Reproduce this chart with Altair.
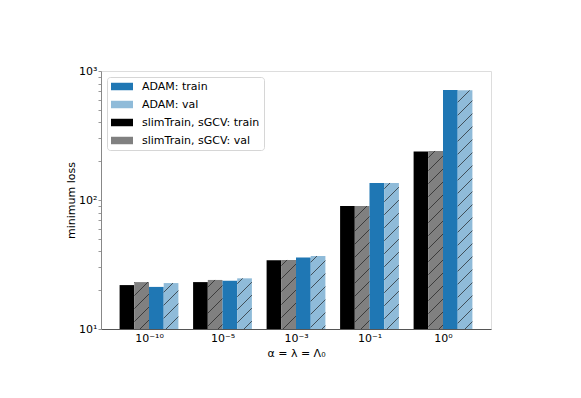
import json
import altair as alt
import pandas as pd

# ---- data ----
categories = ["10⁻¹⁰", "10⁻⁵", "10⁻³", "10⁻¹", "10⁰"]
series = ["slimTrain, sGCV: train", "slimTrain, sGCV: val", "ADAM: train", "ADAM: val"]
slim_train = [21.9, 23.1, 34.1, 89.8, 238.0]
slim_val = [23.1, 24.0, 34.3, 89.8, 240.0]
adam_train = [21.2, 23.7, 35.9, 135.5, 712.0]
adam_val = [22.7, 24.7, 36.8, 135.5, 708.0]

legend_order = ["ADAM: train", "ADAM: val", "slimTrain, sGCV: train", "slimTrain, sGCV: val"]
legend_colors = ["#1f77b4", "#8fbbd9", "#000000", "#808080"]
hatched = ["slimTrain, sGCV: val", "ADAM: val"]

rows = []
for j, (name, vals) in enumerate(zip(series, [slim_train, slim_val, adam_train, adam_val])):
    for g, v in enumerate(vals):
        rows.append({"g": g, "j": j, "series": name, "value": v, "hatch": name in hatched})
df = pd.DataFrame(rows)

# ---- layout ----
W, H = 390, 258
XMIN, XMAX = -0.653, 4.653
BAR = 0.2
SX = W / (XMAX - XMIN)      # px per x unit
SY = H / 2                  # px per decade (10 .. 1000)
SPACING = 13                # hatch spacing (px)
FONT = "DejaVu Sans"

label_expr = f"{json.dumps(categories, ensure_ascii=False)}[datum.value]"
y_values = [10, 20, 30, 40, 50, 60, 70, 80, 90, 100, 200, 300, 400, 500, 600, 700, 800, 900, 1000]
y_label_expr = "datum.value == 10 ? '10¹' : datum.value == 100 ? '10²' : datum.value == 1000 ? '10³' : ''"

base = alt.Chart(df).transform_calculate(
    xl=f"datum.g + (datum.j - 2) * {BAR}",
    xr=f"datum.g + (datum.j - 1) * {BAR}",
)

xscale = alt.Scale(domain=[XMIN, XMAX], nice=False, zero=False)
yscale = alt.Scale(type="log", domain=[10, 1000], nice=False)

bars = base.mark_bar().encode(
    x=alt.X("xl:Q", scale=xscale,
            axis=alt.Axis(values=[0, 1, 2, 3, 4], labelExpr=label_expr, ticks=False,
                          grid=False, labelPadding=3, labelFontSize=11, labelColor="#000",
                          labelFont=FONT, domainColor="#555", labelFlush=False,
                          title="α = λ = Λ₀", titleFont=FONT, titleFontSize=11,
                          titleFontWeight="normal", titleColor="#000",
                          titleY=24, titleBaseline="middle")),
    x2="xr:Q",
    y=alt.Y("value:Q", scale=yscale,
            axis=alt.Axis(values=y_values, labelExpr=y_label_expr, grid=False,
                          tickSize=3, tickColor="#999", labelPadding=1, labelFontSize=11,
                          labelColor="#000", labelFont=FONT, domainColor="#888",
                          labelFlush=False,
                          title="minimum loss", titleFont=FONT, titleFontSize=11,
                          titleFontWeight="normal", titleColor="#000",
                          titleX=-30, titleY=H / 2, titleAngle=-90,
                          titleAlign="center", titleBaseline="middle")),
    y2=alt.datum(10),
    color=alt.Color("series:N",
                    scale=alt.Scale(domain=legend_order, range=legend_colors),
                    legend=alt.Legend(title=None, orient="none", legendX=6, legendY=6,
                                      symbolType="M-1,-0.68H3V0.68H-1Z", symbolSize=121,
                                      symbolStrokeWidth=0, symbolOpacity=1,
                                      labelFont=FONT, labelFontSize=11, labelColor="#000",
                                      labelOffset=20, rowPadding=6, padding=4,
                                      fillColor="#ffffff", strokeColor="#d6d6d6",
                                      cornerRadius=3)),
)

hatch = base.transform_filter("datum.hatch").transform_calculate(
    xlpx=f"(datum.xl - ({XMIN})) * {SX}",
    wpx=f"{BAR * SX}",
    hpx=f"log(datum.value / 10) / LN10 * {SY}",
).transform_calculate(
    k=(f"sequence(floor((datum.xlpx - datum.hpx) / {SPACING}) - 1, "
       f"ceil((datum.xlpx + datum.wpx) / {SPACING}) + 2)"),
).transform_flatten(["k"]).transform_calculate(
    c=f"datum.k * {SPACING} - datum.xlpx",
).transform_calculate(
    xa="max(0, datum.c)",
    xb="min(datum.wpx, datum.c + datum.hpx)",
).transform_filter("datum.xb > datum.xa").transform_calculate(
    hx1=f"datum.xl + datum.xa / {SX}",
    hx2=f"datum.xl + datum.xb / {SX}",
    hy1=f"10 * pow(10, (datum.xa - datum.c) / {SY})",
    hy2=f"10 * pow(10, (datum.xb - datum.c) / {SY})",
).mark_rule(color="#1a1a1a", strokeWidth=0.9, opacity=0.75).encode(
    x=alt.X("hx1:Q", scale=xscale),
    x2="hx2:Q",
    y=alt.Y("hy1:Q", scale=yscale),
    y2="hy2:Q",
)

chart = alt.layer(bars, hatch).properties(
    width=W, height=H,
    autosize=alt.AutoSizeParams(type="none"),
    padding={"left": 93, "top": 63, "right": 70, "bottom": 60},
).configure_view(
    stroke="#ebebeb", strokeWidth=1
).configure(background="#ffffff")

chart.save("out.html", embed_options={"renderer": "svg", "actions": False})
